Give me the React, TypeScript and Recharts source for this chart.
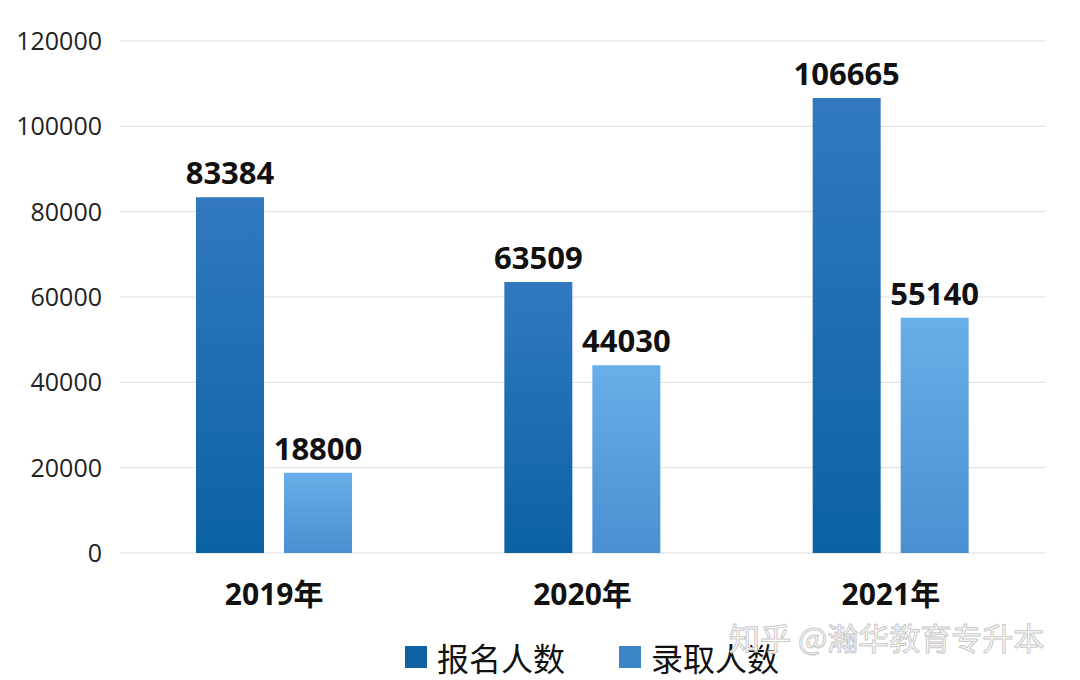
import { Bar, BarChart, CartesianGrid, LabelList, XAxis, YAxis } from "recharts"

const years = ["2019年", "2020年", "2021年"]
const applicants = [83384, 63509, 106665]
const admitted = [18800, 44030, 55140]
const yTicks = [0, 20000, 40000, 60000, 80000, 100000, 120000]

const data = years.map((year, i) => ({
  year,
  applicants: applicants[i],
  admitted: admitted[i],
}))

const font = "'Open Sans', 'Noto Sans CJK SC', sans-serif"

const legendItems = [
  { label: "报名人数", color: "#0f63a5" },
  { label: "录取人数", color: "#3d85c9" },
]

const labelStyle = { fontSize: 31, fontWeight: 700, fill: "#111", fontFamily: font }

export default function App() {
  return (
    <div style={{ position: "absolute", left: 0, top: 0, width: 1080, height: 680, background: "#fff" }}>
      <BarChart
        width={1080}
        height={680}
        data={data}
        margin={{ top: 41, right: 35, bottom: 97, left: 0 }}
        barSize={68}
        barGap={20}
      >
        <defs>
          <linearGradient id="gApp" x1="0" y1="0" x2="0" y2="1">
            <stop offset="0%" stopColor="#3279bf" />
            <stop offset="100%" stopColor="#0a62a3" />
          </linearGradient>
          <linearGradient id="gAdm" x1="0" y1="0" x2="0" y2="1">
            <stop offset="0%" stopColor="#68aee8" />
            <stop offset="100%" stopColor="#4a90d1" />
          </linearGradient>
        </defs>
        <CartesianGrid vertical={false} stroke="#dcdcdc" />
        <XAxis
          dataKey="year"
          height={30}
          axisLine={false}
          tickLine={false}
          tickSize={0}
          tickMargin={31}
          tick={{ fontSize: 30, fontWeight: 700, fill: "#111", fontFamily: font }}
        />
        <YAxis
          width={120}
          domain={[0, 120000]}
          ticks={yTicks}
          axisLine={false}
          tickLine={false}
          tickSize={0}
          tickMargin={18}
          tick={{ fontSize: 25, fill: "#222", fontFamily: font }}
        />
        <Bar dataKey="applicants" fill="url(#gApp)" isAnimationActive={false}>
          <LabelList dataKey="applicants" position="top" offset={13} style={labelStyle} />
        </Bar>
        <Bar dataKey="admitted" fill="url(#gAdm)" isAnimationActive={false}>
          <LabelList dataKey="admitted" position="top" offset={13} style={labelStyle} />
        </Bar>
      </BarChart>
      {/* legend drawn outside so it doesn't eat plot height */}
      <div
        style={{
          position: "absolute",
          left: 405,
          top: 634,
          display: "flex",
          gap: 54,
          fontFamily: "'Noto Sans CJK SC', sans-serif",
          fontSize: 32,
          lineHeight: "46px",
          color: "#111",
        }}
      >
        {legendItems.map((it) => (
          <div key={it.label} style={{ display: "flex", alignItems: "center" }}>
            <span style={{ width: 22, height: 22, background: it.color, display: "inline-block", marginRight: 10 }} />
            <span>{it.label}</span>
          </div>
        ))}
      </div>
      <div
        style={{
          position: "absolute",
          left: 729,
          top: 614,
          fontSize: 31,
          fontFamily: "'Noto Sans CJK SC', sans-serif",
          color: "#fff",
          WebkitTextStroke: "1px #c8c8c8",
          whiteSpace: "nowrap",
        }}
      >
        知乎 @瀚华教育专升本
      </div>
    </div>
  )
}
